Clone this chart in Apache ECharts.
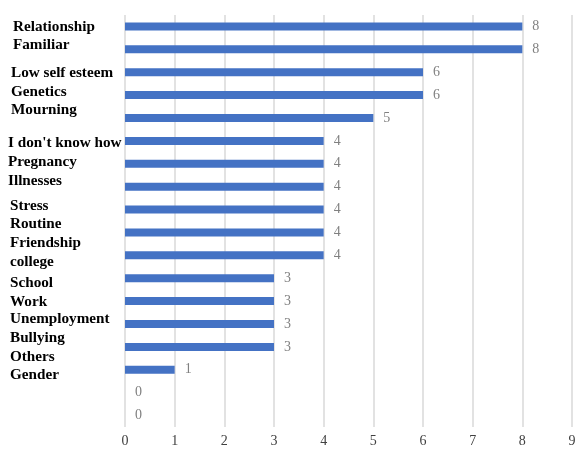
<!DOCTYPE html>
<html>
<head>
<meta charset="utf-8">
<script src="https://cdn.jsdelivr.net/npm/echarts@6/dist/echarts.min.js"></script>
<style>html,body{margin:0;padding:0;background:#fff}#c{width:575px;height:452px}</style>
</head>
<body>
<div id="c"></div>
<script>
var categories = ['Relationship','Familiar','Low self esteem','Genetics','Mourning',"I don't know how",'Pregnancy','Illnesses','Stress','Routine','Friendship','college','School','Work','Unemployment','Bullying','Others','Gender'];
var values = [8,8,6,6,5,4,4,4,4,4,4,3,3,3,3,1,0,0];
var xTicks = [0,1,2,3,4,5,6,7,8,9];

// layout tweaks for the left labels (vertical shift in px, left indent in px)
var labelShiftY = [0.5,-4,0.5,-3.5,-8,2.5,-1.5,-6,-3.5,-8,-12,-16.5,-18.5,-21.5,-28,-32,-36,-40];
var labelIndent = [5,5,3,3,3,0,0,0,2,2,2,2,2,2,2,2,2,2];

var rich = {};
categories.forEach(function(c,i){
  var d = labelShiftY[i];
  rich['r'+i] = {
    fontFamily: '"Liberation Serif", "Times New Roman", serif',
    fontWeight: 'bold', fontSize: 15.2, color: '#000',
    padding: [d > 0 ? 2*d : 0, 0, d < 0 ? -2*d : 0, labelIndent[i]]
  };
});

var chart = echarts.init(document.getElementById('c'));
chart.setOption({
  animation: false,
  grid: {left: 125, right: 3, top: 15, bottom: 25, containLabel: false, outerBoundsMode: 'none'},
  xAxis: {
    type: 'value', min: xTicks[0], max: xTicks[xTicks.length-1], interval: 1,
    axisLine: {show: false}, axisTick: {show: false},
    splitLine: {show: true, lineStyle: {color: '#d9d9d9', width: 1.5}},
    axisLabel: {margin: 7, color: '#404040', fontSize: 14, fontFamily: '"Liberation Serif", "Times New Roman", serif',
      formatter: function(v){ return xTicks.indexOf(v) >= 0 ? String(v) : ''; }}
  },
  yAxis: {
    type: 'category', data: categories, inverse: true,
    axisLine: {show: false}, axisTick: {show: false},
    axisLabel: {
      interval: 0, align: 'left', margin: 117,
      formatter: function(v, i){ return '{r' + i + '|' + v + '}'; },
      rich: rich
    }
  },
  series: [{
    type: 'bar', data: values, barWidth: 8,
    itemStyle: {color: '#4472C4'},
    label: {show: true, position: 'right', distance: 10, color: '#808080', fontSize: 14,
      fontFamily: '"Liberation Serif", "Times New Roman", serif'}
  }]
});
</script>
</body>
</html>
